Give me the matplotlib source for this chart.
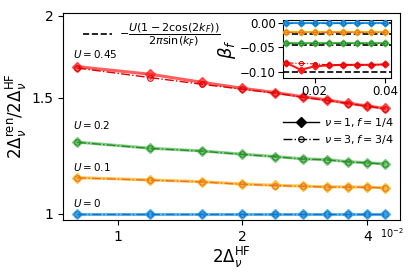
import numpy as np
import matplotlib
matplotlib.use("Agg")
import matplotlib.pyplot as plt
from matplotlib.lines import Line2D
from matplotlib.ticker import NullLocator, FixedLocator, FixedFormatter

# -----------------------------
# data
# -----------------------------
U_values = [0.0, 0.1, 0.2, 0.45]
U_labels = ["$U=0$", "$U=0.1$", "$U=0.2$", "$U=0.45$"]
colors = ["#1f9ee8", "#ffb000", "#55bb55", "#ff1a1a"]
dark_colors = ["#1a6fc0", "#e8702a", "#2a8a2a", "#e00000"]

gap_hf = [0.008, 0.012, 0.016, 0.020, 0.024, 0.028, 0.032, 0.036, 0.040, 0.044]

# ratio 2Delta_ren / 2Delta_HF, nu=1 f=1/4
ratio_nu1 = [
    [1.0, 1.0, 1.0, 1.0, 1.0, 1.0, 1.0, 1.0, 1.0, 1.0],
    [1.135, 1.126, 1.119, 1.110, 1.105, 1.102, 1.099, 1.099, 1.098, 1.096],
    [1.285, 1.258, 1.246, 1.232, 1.222, 1.212, 1.209, 1.200, 1.196, 1.191],
    [1.673, 1.629, 1.584, 1.551, 1.528, 1.506, 1.489, 1.472, 1.458, 1.446],
]
# nu=3 f=3/4
ratio_nu3 = [
    [1.0, 1.0, 1.0, 1.0, 1.0, 1.0, 1.0, 1.0, 1.0, 1.0],
    [1.134, 1.125, 1.118, 1.109, 1.104, 1.101, 1.098, 1.098, 1.097, 1.095],
    [1.284, 1.257, 1.245, 1.231, 1.221, 1.211, 1.208, 1.199, 1.195, 1.190],
    [1.665, 1.610, 1.573, 1.546, 1.525, 1.503, 1.487, 1.470, 1.457, 1.445],
]

# inset: beta_f
inset_x = [0.012, 0.016, 0.020, 0.024, 0.028, 0.032, 0.036, 0.040]
beta_nu1 = [
    [0.0] * 8,
    [-0.020] * 8,
    [-0.042] * 8,
    [-0.082, -0.096, -0.089, -0.087, -0.086, -0.086, -0.086, -0.085],
]
beta_nu3 = [
    [0.0] * 8,
    [-0.020] * 8,
    [-0.042] * 8,
    [-0.082, -0.083, -0.084, -0.086, -0.086, -0.086, -0.086, -0.085],
]
beta_theory = [0.0, -0.0225, -0.045, -0.101]

# -----------------------------
# figure
# -----------------------------
fig = plt.figure(figsize=(4.15, 2.77), dpi=100)
ax = fig.add_axes([0.1525, 0.206, 0.812, 0.748])

for i in range(len(U_values)):
    ax.plot(gap_hf, ratio_nu1[i], '-', color=colors[i], lw=2.2, alpha=0.7,
            marker='D', ms=5, mfc=colors[i], mec=colors[i])
    ax.plot(gap_hf, ratio_nu3[i], '-.', color=dark_colors[i], lw=1,
            marker='o', ms=4, mfc='none', mec=dark_colors[i], mew=0.8)

ax.set_xscale('log')
ax.set_yscale('log')
ax.set_xlim(0.0074, 0.048)
ax.set_ylim(0.979, 2.02)

ax.xaxis.set_major_locator(FixedLocator([0.01, 0.02, 0.04]))
ax.xaxis.set_major_formatter(FixedFormatter(["1", "2", "4"]))
ax.xaxis.set_minor_locator(NullLocator())
ax.yaxis.set_major_locator(FixedLocator([1, 1.5, 2]))
ax.yaxis.set_major_formatter(FixedFormatter(["1", "1.5", "2"]))
ax.yaxis.set_minor_locator(NullLocator())
ax.tick_params(labelsize=10)
ax.text(0.976, -0.03, r"$10^{-2}$", transform=ax.transAxes, fontsize=7,
        ha='center', va='top')

ax.set_xlabel(r"$2\Delta_\nu^{\rm HF}$", fontsize=12, labelpad=1)
ax.set_ylabel(r"$2\Delta_\nu^{\rm ren}/2\Delta_\nu^{\rm HF}$", fontsize=12,
              labelpad=2)

# U labels
label_y = [1.018, 1.155, 1.335, 1.71]
for lab, yy in zip(U_labels, label_y):
    ax.text(0.0078, yy, lab, fontsize=7.5, ha='left', va='bottom')

# legends
leg1 = ax.legend([Line2D([], [], color='k', ls='--', lw=1.2)],
                 [r"$-\dfrac{U(1-2\cos(2k_F))}{2\pi\sin(k_F)}$"],
                 loc='upper left', bbox_to_anchor=(0.04, 0.99), frameon=False,
                 fontsize=8, handlelength=2.6, handletextpad=0.6,
                 borderaxespad=0.2)
ax.add_artist(leg1)
h1 = Line2D([], [], color='k', ls='-', lw=1, marker='D', ms=5)
h2 = Line2D([], [], color='k', ls='-.', lw=1, marker='o', ms=4, mfc='none',
            mew=0.8)
ax.legend([h1, h2], [r"$\nu=1, f=1/4$", r"$\nu=3, f=3/4$"],
          loc='upper right', bbox_to_anchor=(1.0, 0.535), frameon=False,
          fontsize=8, handlelength=3.2, handletextpad=0.5,
          labelspacing=0.35, borderaxespad=0.2)

# -----------------------------
# inset
# -----------------------------
ins = fig.add_axes([0.681, 0.718, 0.260, 0.209])
for i in range(len(U_values)):
    ins.axhline(beta_theory[i], color='k', ls='--', lw=1.2, zorder=3)
    ins.plot(inset_x, beta_nu1[i], '-', color=colors[i], lw=1.5,
             marker='D', ms=3.5, zorder=4)
    ins.plot(inset_x, beta_nu3[i], '-.', color=dark_colors[i], lw=0.8,
             marker='o', ms=3, mfc='none', mew=0.7, zorder=4)
ins.set_xlim(0.0109, 0.0415)
ins.set_ylim(-0.113, 0.005)
ins.set_xticks([0.02, 0.04])
ins.set_xticklabels(["0.02", "0.04"])
ins.set_yticks([0.0, -0.05, -0.10])
ins.set_yticklabels(["0.00", "\u22120.05", "\u22120.10"])
ins.tick_params(labelsize=8.5, pad=1.5)
ins.set_ylabel(r"$\beta_f$", fontsize=13, labelpad=1)

fig.savefig("out.png", dpi=100)
